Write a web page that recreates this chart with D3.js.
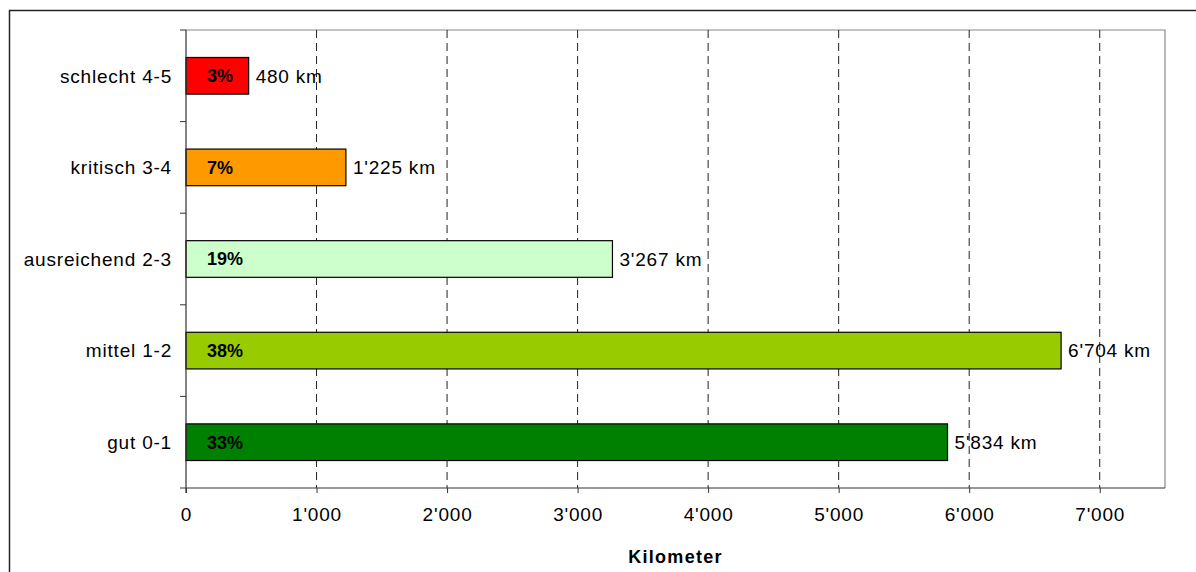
<html lang="de">
<head>
<meta charset="utf-8">
<title>Zustand Strassennetz</title>
<script src="https://cdn.jsdelivr.net/npm/d3@7"></script>
<style>
body { margin:0; background:#fff; }
text { font-family: "Liberation Sans", Arial, sans-serif; }
</style>
</head>
<body>
<script>
// data
var categories = ["schlecht 4-5", "kritisch 3-4", "ausreichend 2-3", "mittel 1-2", "gut 0-1"];
var kilometers = [480, 1225, 3267, 6704, 5834];
var percents = ["3%", "7%", "19%", "38%", "33%"];
var colors = ["#FF0000", "#FF9900", "#CCFFCC", "#99CC00", "#008000"];
var xTicks = [0, 1000, 2000, 3000, 4000, 5000, 6000, 7000];

var w = 1196, h = 572;
var pLeft = 186, pRight = 1165, pTop = 30, pBottom = 488;

var loc = d3.formatLocale({decimal: ".", thousands: "'", grouping: [3], currency: ["", ""]});
var fmt = loc.format(",d");

var svg = d3.select("body").append("svg")
    .attr("width", w).attr("height", h);

// outer frame
svg.append("rect")
    .attr("x", 9.5).attr("y", 10.5)
    .attr("width", w + 20).attr("height", h + 20)
    .attr("fill", "none").attr("stroke", "#222").attr("stroke-width", 1.5);

var x = d3.scaleLinear().domain([0, 7500]).range([pLeft, pRight]);
var y = d3.scaleBand().domain(categories).range([pTop, pBottom]).paddingInner(0.6).paddingOuter(0.3);
var yb = d3.scaleBand().domain(categories).range([pTop, pBottom]);

// plot border (top/right gray)
svg.append("path")
    .attr("d", "M" + pLeft + "," + pTop + "H" + pRight + "V" + pBottom)
    .attr("fill", "none").attr("stroke", "#888").attr("stroke-width", 1.2);

// grid
svg.selectAll("line.grid")
    .data(xTicks.slice(1))
    .enter().append("line")
    .attr("class", "grid")
    .attr("x1", function(d) { return x(d); })
    .attr("x2", function(d) { return x(d); })
    .attr("y1", pTop).attr("y2", pBottom)
    .attr("stroke", "#222").attr("stroke-width", 1)
    .attr("stroke-dasharray", "8,5");

// bars
svg.selectAll("rect.bar")
    .data(kilometers)
    .enter().append("rect")
    .attr("class", "bar")
    .attr("x", x(0))
    .attr("y", function(d, i) { return y(categories[i]); })
    .attr("width", function(d) { return x(d) - x(0); })
    .attr("height", y.bandwidth())
    .attr("fill", function(d, i) { return colors[i]; })
    .attr("stroke", "#000").attr("stroke-width", 1.2);

// percent labels
svg.selectAll("text.pct")
    .data(percents)
    .enter().append("text")
    .attr("class", "pct")
    .attr("x", x(0) + 21)
    .attr("y", function(d, i) { return y(categories[i]) + y.bandwidth() / 2; })
    .attr("dy", "0.36em")
    .attr("font-size", "18px").attr("font-weight", "bold")
    .attr("fill", "#000")
    .text(function(d) { return d; });

// value labels
svg.selectAll("text.val")
    .data(kilometers)
    .enter().append("text")
    .attr("class", "val")
    .attr("x", function(d) { return x(d) + 7; })
    .attr("y", function(d, i) { return y(categories[i]) + y.bandwidth() / 2; })
    .attr("dy", "0.36em")
    .attr("font-size", "19px").attr("letter-spacing", "0.8px")
    .attr("fill", "#000")
    .text(function(d) { return fmt(d) + " km"; });

// x axis
var xAxis = d3.axisBottom(x).tickValues(xTicks).tickSize(5).tickPadding(15)
    .tickFormat(function(d) { return fmt(d); });
var gx = svg.append("g").attr("transform", "translate(0," + pBottom + ")").call(xAxis);
gx.select(".domain").attr("d", "M" + (pLeft - 6) + ",0H" + pRight).attr("stroke", "#333").attr("stroke-width", 1.2);
gx.selectAll(".tick line").attr("stroke", "#333");
gx.selectAll("text").attr("font-size", "19px").attr("letter-spacing", "0.8px")
    .attr("fill", "#000").attr("font-family", "Liberation Sans, Arial, sans-serif");

// y axis: category labels, ticks at band boundaries
var gy = svg.append("g");
gy.append("line")
    .attr("x1", pLeft).attr("x2", pLeft).attr("y1", pTop).attr("y2", pBottom + 5)
    .attr("stroke", "#333").attr("stroke-width", 1.2);
gy.selectAll("line.yt")
    .data(categories)
    .enter().append("line")
    .attr("class", "yt")
    .attr("x1", pLeft - 6).attr("x2", pLeft)
    .attr("y1", function(d) { return yb(d); })
    .attr("y2", function(d) { return yb(d); })
    .attr("stroke", "#333");
gy.selectAll("text")
    .data(categories)
    .enter().append("text")
    .attr("x", pLeft - 14)
    .attr("y", function(d) { return yb(d) + yb.bandwidth() / 2; })
    .attr("dy", "0.36em")
    .attr("text-anchor", "end")
    .attr("font-size", "19px").attr("letter-spacing", "0.8px")
    .attr("fill", "#000")
    .text(function(d) { return d; });

// axis title
svg.append("text")
    .attr("x", (pLeft + pRight) / 2)
    .attr("y", 563)
    .attr("text-anchor", "middle")
    .attr("font-size", "18px").attr("font-weight", "bold")
    .attr("letter-spacing", "1.3px")
    .text("Kilometer");
</script>
</body>
</html>
